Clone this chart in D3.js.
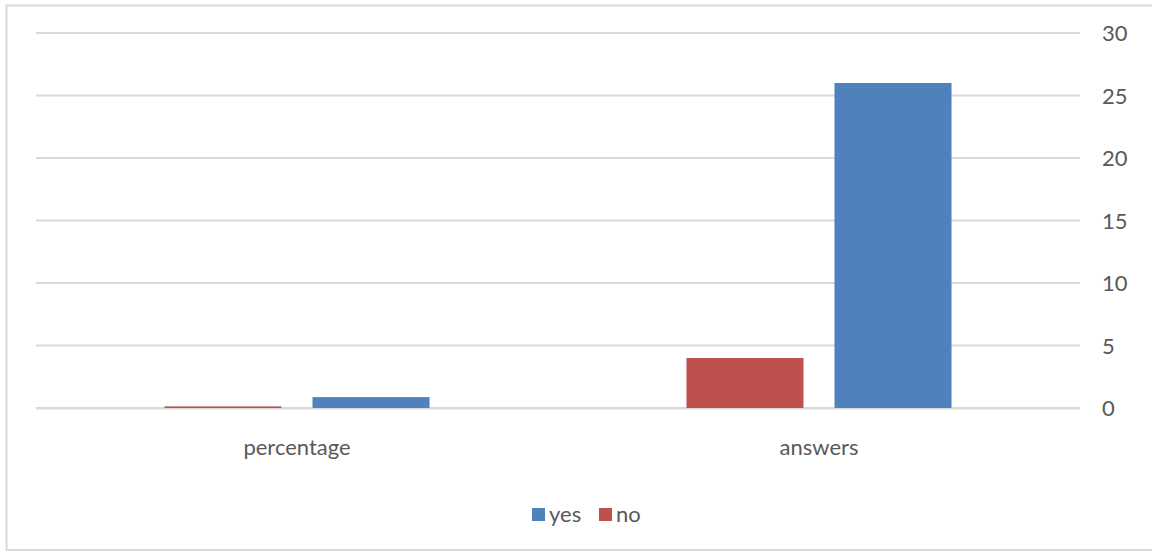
<!DOCTYPE html>
<html>
<head>
<meta charset="utf-8">
<script src="https://cdn.jsdelivr.net/npm/d3@7"></script>
<style>
  html, body { margin: 0; padding: 0; background: #fff; }
  svg { display: block; }
</style>
</head>
<body>
<svg id="chart" width="1152" height="552"></svg>
<script>
const categories = ["percentage", "answers"];
const seriesNames = ["no", "yes"];
const noValues = [0.13, 4];
const yesValues = [0.87, 26];
const yTicks = [0, 5, 10, 15, 20, 25, 30];
const legendOrder = ["yes", "no"];

const colors = { yes: "#4f81bd", no: "#c0504d" };
const valuesBySeries = { no: noValues, yes: yesValues };

const svg = d3.select("#chart");
const W = 1152, H = 552;
const plot = { left: 36, right: 1080, top: 33, bottom: 408 };
const font = "Lato, 'Open Sans', sans-serif";
const fontSize = 22;
const textColor = "#595959";

svg.append("rect").attr("width", W).attr("height", H).attr("fill", "#fff");
// chart border (right edge outside the view)
svg.append("rect")
  .attr("x", 6.5).attr("y", 5.5)
  .attr("width", 1160).attr("height", 544.5)
  .attr("fill", "none").attr("stroke", "#d9d9d9").attr("stroke-width", 2);

const x = d3.scaleBand().domain(categories).range([plot.left, plot.right]).padding(0);
const xs = d3.scaleBand().domain(seriesNames).range([0, x.bandwidth()])
  .paddingInner(31 / 148).paddingOuter(0.868);
const y = d3.scaleLinear().domain([0, 30]).range([plot.bottom, plot.top]);

// gridlines
svg.append("g").selectAll("line").data(yTicks).join("line")
  .attr("x1", plot.left).attr("x2", plot.right)
  .attr("y1", d => y(d)).attr("y2", d => y(d))
  .attr("stroke", "#d9d9d9").attr("stroke-width", 2);

// right axis labels
const yAxis = d3.axisRight(y).tickValues(yTicks).tickSize(0).tickPadding(0);
const gy = svg.append("g").attr("transform", `translate(1102,0)`).call(yAxis);
gy.select(".domain").remove();
gy.selectAll("text")
  .attr("font-family", font).attr("font-size", fontSize)
  .attr("fill", textColor).attr("dy", "0.35em");

// bars
const rows = categories.map((c, i) => ({ cat: c, vals: seriesNames.map(s => ({ s, v: valuesBySeries[s][i] })) }));
const groups = svg.append("g").selectAll("g").data(rows).join("g")
  .attr("transform", d => `translate(${x(d.cat)},0)`);
groups.selectAll("rect").data(d => d.vals).join("rect")
  .attr("x", d => xs(d.s))
  .attr("width", xs.bandwidth())
  .attr("y", d => y(d.v))
  .attr("height", d => y(0) - y(d.v))
  .attr("fill", d => colors[d.s]);

// zero line below bars
svg.append("line")
  .attr("x1", plot.left).attr("x2", plot.right)
  .attr("y1", y(0) + 1).attr("y2", y(0) + 1)
  .attr("stroke", "#d9d9d9").attr("stroke-width", 1);

// category labels
const xAxis = d3.axisBottom(x).tickSize(0).tickPadding(0);
const gx = svg.append("g").attr("transform", `translate(0,447)`).call(xAxis);
gx.select(".domain").remove();
gx.selectAll("text")
  .attr("font-family", font).attr("font-size", fontSize)
  .attr("fill", textColor).attr("dy", "0.35em");

// legend
const legendPos = { yes: 532, no: 599 };
const lg = svg.append("g").selectAll("g").data(legendOrder).join("g")
  .attr("transform", d => `translate(${legendPos[d]},508)`);
lg.append("rect").attr("width", 13).attr("height", 13).attr("fill", d => colors[d]);
lg.append("text").attr("x", 17).attr("y", 6.5).attr("dy", "0.35em")
  .attr("font-family", font).attr("font-size", fontSize).attr("fill", textColor)
  .text(d => d);
</script>
</body>
</html>
